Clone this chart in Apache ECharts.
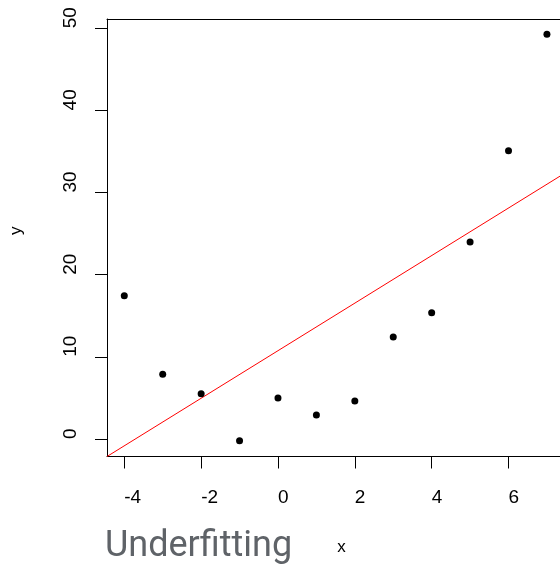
<!DOCTYPE html>
<html><head><meta charset="utf-8">
<script src="https://cdn.jsdelivr.net/npm/echarts@6/dist/echarts.min.js"></script>
<style>html,body{margin:0;padding:0;background:#fff;overflow:hidden}#c{width:560px;height:564px}</style>
</head><body><div id="c"></div>
<script>
const xValues = [-4, -3, -2, -1, 0, 1, 2, 3, 4, 5, 6, 7];
const yValues = [17.45, 7.88, 5.52, -0.21, 4.99, 2.92, 4.63, 12.42, 15.38, 23.98, 35.1, 49.27];
const fitX = [-4.45, 7.34];
const fitY = [-2.13, 32.0];
const xTicks = [-4, -2, 0, 2, 4, 6];
const yTicks = [0, 10, 20, 30, 40, 50];
const captionText = 'Underfitting';

const font = 'Liberation Sans, Arial, sans-serif';
const lineCol = '#000';
const chart = echarts.init(document.getElementById('c'), null, {renderer: 'canvas'});
chart.setOption({
  animation: false,
  backgroundColor: '#fff',
  title: {
    text: captionText, left: 100, top: 524,
    textStyle: {fontFamily: 'Roboto', fontSize: 36, fontWeight: 'normal', color: '#5f6368'}
  },
  grid: {left: 105, top: 19, right: 0, bottom: 107.5, show: false},
  xAxis: [{
    type: 'value', min: fitX[0], max: fitX[1], position: 'bottom',
    name: 'x', nameLocation: 'middle', nameGap: 82,
    nameTextStyle: {fontFamily: font, fontSize: 17, color: '#000', padding: [0, 0, 0, 16]},
    axisLine: {show: true, onZero: false, lineStyle: {color: lineCol, width: 1}},
    axisTick: {show: true, length: 12, lineStyle: {color: lineCol}, customValues: xTicks},
    axisLabel: {customValues: xTicks, margin: 32, align: 'left', fontFamily: font, fontSize: 19, color: '#000'},
    splitLine: {show: false}
  }, {
    type: 'value', min: fitX[0], max: fitX[1], position: 'top',
    axisLine: {show: true, onZero: false, lineStyle: {color: lineCol, width: 1}},
    axisTick: {show: false}, axisLabel: {show: false}, splitLine: {show: false}
  }],
  yAxis: {
    type: 'value', min: -2.13, max: 51.13,
    name: 'y', nameLocation: 'middle', nameGap: 82, nameRotate: 90,
    nameTextStyle: {fontFamily: font, fontSize: 17, color: '#000', padding: [0, 0, 0, 14]},
    axisLine: {show: true, onZero: false, lineStyle: {color: lineCol, width: 1}},
    axisTick: {show: true, length: 12, lineStyle: {color: lineCol}, customValues: yTicks},
    axisLabel: {customValues: yTicks, rotate: 90, align: 'left', margin: 27, fontFamily: font, fontSize: 19, color: '#000'},
    splitLine: {show: false}
  },
  series: [
    {
      type: 'line', xAxisIndex: 0, data: fitX.map((x, i) => [x, fitY[i]]),
      symbol: 'none', lineStyle: {color: '#ff0000', width: 1}, silent: true, z: 1
    },
    {
      type: 'scatter', xAxisIndex: 0, data: xValues.map((x, i) => [x, yValues[i]]),
      symbol: 'circle', symbolSize: 7, itemStyle: {color: '#000', opacity: 1}, z: 2
    }
  ]
});
</script>
</body></html>
